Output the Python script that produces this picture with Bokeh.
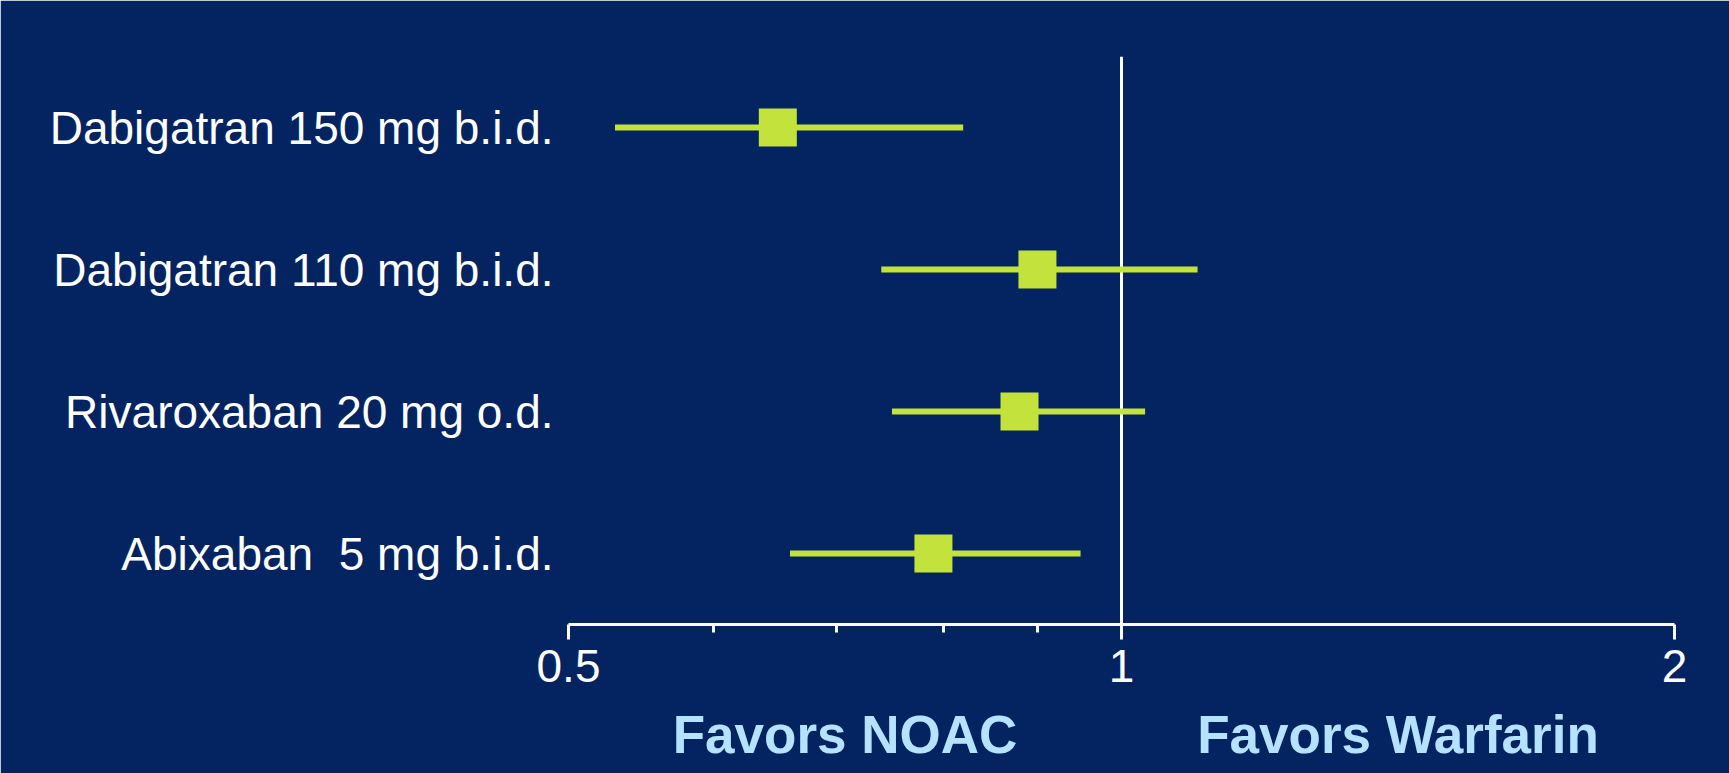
from bokeh.plotting import figure
from bokeh.models import FixedTicker, Span, ColumnDataSource, LogAxis, CustomJSTickFormatter
from bokeh.embed import file_html
from bokeh.resources import INLINE

# ---- data ----
drugs = ["Dabigatran 150 mg b.i.d.", "Dabigatran 110 mg b.i.d.",
         "Rivaroxaban 20 mg o.d.", "Abixaban \u00a05 mg b.i.d."]
rr = [0.65, 0.90, 0.88, 0.79]
lower = [0.53, 0.74, 0.75, 0.66]
upper = [0.82, 1.10, 1.03, 0.95]
x_ticks = [0.5, 1, 2]
x_tick_labels = ["0.5", "1", "2"]
x_minor_ticks = [0.6, 0.7, 0.8, 0.9]
side_labels = ["Favors NOAC", "Favors Warfarin"]

# ---- styles ----
BG = "#032461"
MARK = "#c3e23b"
WHITE = "#ffffff"
SIDE = "#b5e2ff"
FONT = "Liberation Sans"

rows = list(range(len(drugs), 0, -1))  # 4,3,2,1 top to bottom
src = ColumnDataSource(dict(y=rows, rr=rr, lo=lower, hi=upper))

p = figure(width=1729, height=773, x_axis_type="log",
           x_range=(x_ticks[0], x_ticks[-1]), y_range=(0.5, len(drugs) + 0.5),
           output_backend="svg", toolbar_location=None,
           min_border_left=568, min_border_right=55,
           min_border_top=56, min_border_bottom=149)

p.background_fill_color = BG
p.border_fill_color = BG
p.outline_line_color = BG
p.outline_line_width = 2
p.xgrid.visible = False
p.ygrid.visible = False

# reference line at 1
vline = Span(location=1, dimension="height", line_color=WHITE, line_width=3, level="underlay")
p.add_layout(vline)

# CI lines and point estimates
p.segment(x0="lo", x1="hi", y0="y", y1="y", source=src, line_color=MARK,
          line_width=6, line_cap="butt")
p.scatter(x="rr", y="y", source=src, marker="square", size=38,
          fill_color=MARK, line_color=MARK, line_width=0)

# x axis
xa = p.xaxis[0]
xa.ticker = FixedTicker(ticks=x_ticks, minor_ticks=x_minor_ticks)
xa.formatter = CustomJSTickFormatter(args=dict(labels=x_tick_labels), code="return labels[index];")
xa.axis_line_color = WHITE
xa.axis_line_width = 3
xa.major_tick_line_color = WHITE
xa.major_tick_line_width = 3
xa.major_tick_in = 0
xa.major_tick_out = 15
xa.minor_tick_line_color = WHITE
xa.minor_tick_line_width = 3
xa.minor_tick_in = 0
xa.minor_tick_out = 8
xa.major_label_text_color = WHITE
xa.major_label_text_font = FONT
xa.major_label_text_font_size = "46px"
xa.major_label_standoff = 10

# second axis carrying the "Favors ..." captions, centred between axis ticks
side_x = [(x_ticks[0] * x_ticks[1]) ** 0.5, (x_ticks[1] * x_ticks[2]) ** 0.5]
sa = LogAxis(ticker=FixedTicker(ticks=side_x, minor_ticks=[]),
             formatter=CustomJSTickFormatter(args=dict(labels=side_labels), code="return labels[index];"))
sa.axis_line_color = None
sa.major_tick_line_color = None
sa.minor_tick_line_color = None
sa.major_tick_in = 0
sa.major_tick_out = 0
sa.major_label_standoff = 20
sa.major_label_text_color = SIDE
sa.major_label_text_font = FONT
sa.major_label_text_font_style = "bold"
sa.major_label_text_font_size = "53px"
p.add_layout(sa, "below")

# y axis with drug names
ya = p.yaxis[0]
ya.ticker = FixedTicker(ticks=rows, minor_ticks=[])
ya.formatter = CustomJSTickFormatter(args=dict(labels=drugs, rows=rows),
                                     code="return labels[rows.indexOf(tick)];")
ya.axis_line_color = None
ya.major_tick_line_color = None
ya.minor_tick_line_color = None
ya.major_tick_out = 0
ya.major_tick_in = 0
ya.major_label_text_color = WHITE
ya.major_label_text_font = FONT
ya.major_label_text_font_size = "46px"
ya.major_label_standoff = 15

open("out.html", "w").write(file_html(p, INLINE))
